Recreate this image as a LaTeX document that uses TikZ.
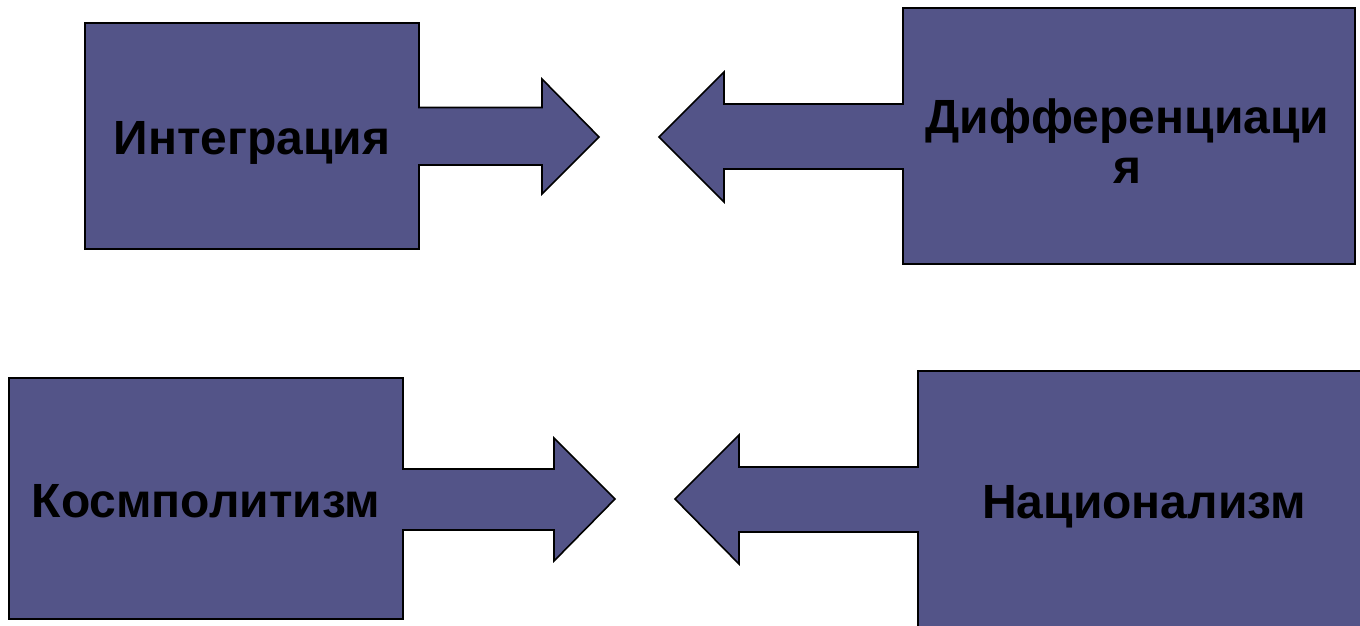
\documentclass[tikz,border=0pt]{standalone}
\usepackage{fontspec}
\setmainfont{Liberation Sans}
\definecolor{boxfill}{RGB}{83,84,136}
\begin{document}
\begin{tikzpicture}[x=1pt,y=-1pt,
  shapebox/.style={fill=boxfill,draw=black,line width=1.6pt,line join=miter},
  label/.style={font=\bfseries\fontsize{48}{49.5}\selectfont,text=black,inner sep=0pt,anchor=base,align=center}]
\useasboundingbox (0,0) rectangle (1360,625);
\begin{scope}
\clip (0,0) rectangle (1360,625);
% top-left: box with right arrow
\draw[shapebox] (85,23) -- (419,23) -- (419,107.5) -- (542,107.5) -- (542,79) -- (599,137)
  -- (542,194) -- (542,165) -- (419,165) -- (419,249) -- (85,249) -- cycle;
% top-right: box with left arrow
\draw[shapebox] (1355,8) -- (903,8) -- (903,104) -- (724,104) -- (724,72) -- (659,137)
  -- (724,202) -- (724,169) -- (903,169) -- (903,264) -- (1355,264) -- cycle;
% bottom-left
\draw[shapebox] (9,378) -- (403,378) -- (403,469) -- (554,469) -- (554,438) -- (615,499)
  -- (554,561) -- (554,530) -- (403,530) -- (403,619) -- (9,619) -- cycle;
% bottom-right
\draw[shapebox] (1380,371) -- (918,371) -- (918,467) -- (739,467) -- (739,435) -- (675,499)
  -- (739,564) -- (739,532) -- (918,532) -- (918,640) -- (1380,640) -- cycle;
\end{scope}
\node[label] (integ) at (252,154) {Интеграция};
\node[label] (diff) at (1127.5,183) {Дифференциаци\\я};
\node[label] (kosm) at (206,517) {Космполитизм};
\node[label] (nats) at (1144,518) {Национализм};
\end{tikzpicture}
\end{document}
